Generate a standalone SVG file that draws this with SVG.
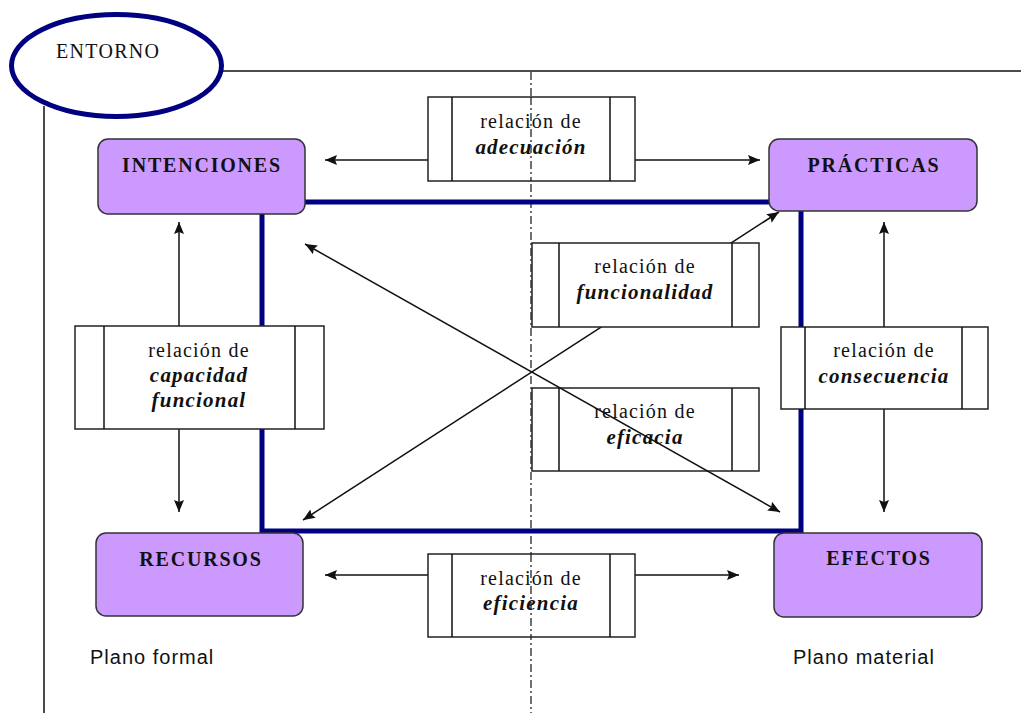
<svg xmlns="http://www.w3.org/2000/svg" width="1021" height="713" viewBox="0 0 1021 713">
<style>
.node{fill:#CC99FF;stroke:#333;stroke-width:1.5}
.ntxt{font-family:"Liberation Serif",serif;font-weight:bold;font-size:20px;letter-spacing:1.8px;text-anchor:middle;fill:#111}
.rel{fill:#fff;stroke:#222;stroke-width:1.5}
.rtxt{font-family:"Liberation Serif",serif;font-size:20px;letter-spacing:1.2px;text-anchor:middle;fill:#111}
.rem{font-family:"Liberation Serif",serif;font-size:21px;font-weight:bold;font-style:italic;letter-spacing:1.2px;text-anchor:middle;fill:#111}
.ln{stroke:#111;stroke-width:1.5;fill:none}
.plano{font-family:"Liberation Sans",sans-serif;font-size:20px;letter-spacing:1px;fill:#111}
</style>
<defs>
<marker id="ah" viewBox="0 0 12 10" refX="12" refY="5" markerWidth="12" markerHeight="10" markerUnits="userSpaceOnUse" orient="auto-start-reverse">
<path d="M0,0 L12,5 L0,10 L2,5 z" fill="#111"/>
</marker>
</defs>
<rect width="1021" height="713" fill="#fff"/>
<g id="entorno">
<line x1="44" y1="106" x2="44" y2="713" class="ln"/>
<line x1="222" y1="71" x2="1021" y2="71" class="ln"/>
<ellipse cx="116.5" cy="65.5" rx="105" ry="51" fill="#fff" stroke="#000080" stroke-width="5"/>
<text x="56" y="58" font-family="Liberation Serif,serif" font-size="20" letter-spacing="1.3" fill="#111">ENTORNO</text>
</g>
<line id="divider" x1="531" y1="72" x2="531" y2="713" stroke="#111" stroke-width="1.2" stroke-dasharray="8,3,2,3"/>
<rect id="frame" x="262" y="202" width="539" height="329" fill="none" stroke="#000080" stroke-width="5"/>
<g id="connectors-under">
<line x1="303" y1="520" x2="779" y2="212" class="ln" marker-start="url(#ah)" marker-end="url(#ah)"/>
</g>
<g id="intenciones"><rect class="node" x="98" y="139" width="207" height="75" rx="10"/><text class="ntxt" x="202" y="172">INTENCIONES</text></g>
<g id="practicas"><rect class="node" x="769" y="139" width="208" height="72" rx="10"/><text class="ntxt" x="874" y="172">PRÁCTICAS</text></g>
<g id="recursos"><rect class="node" x="96" y="533" width="207" height="83" rx="10"/><text class="ntxt" x="201" y="566">RECURSOS</text></g>
<g id="efectos"><rect class="node" x="774" y="533" width="208" height="84" rx="10"/><text class="ntxt" x="879" y="565">EFECTOS</text></g>
<g id="connectors">
<line x1="428" y1="160" x2="325" y2="160" class="ln" marker-end="url(#ah)"/>
<line x1="635" y1="160" x2="760" y2="160" class="ln" marker-end="url(#ah)"/>
<line x1="428" y1="575" x2="325" y2="575" class="ln" marker-end="url(#ah)"/>
<line x1="635" y1="575" x2="739" y2="575" class="ln" marker-end="url(#ah)"/>
<line x1="179" y1="326" x2="179" y2="222" class="ln" marker-end="url(#ah)"/>
<line x1="179" y1="429" x2="179" y2="512" class="ln" marker-end="url(#ah)"/>
<line x1="884" y1="327" x2="884" y2="222" class="ln" marker-end="url(#ah)"/>
<line x1="884" y1="409" x2="884" y2="512" class="ln" marker-end="url(#ah)"/>
</g>
<g id="adecuacion"><rect class="rel" x="428" y="97" width="207" height="84"/><line class="ln" x1="452" y1="97" x2="452" y2="181"/><line class="ln" x1="610" y1="97" x2="610" y2="181"/><text class="rtxt" x="531" y="128">relación de</text><text class="rem" x="531" y="154">adecuación</text></g>
<g id="funcionalidad"><rect class="rel" x="532" y="243" width="227" height="84"/><line class="ln" x1="559" y1="243" x2="559" y2="327"/><line class="ln" x1="732" y1="243" x2="732" y2="327"/><text class="rtxt" x="645" y="273">relación de</text><text class="rem" x="645" y="299">funcionalidad</text></g>
<g id="eficacia"><rect class="rel" x="532" y="388" width="227" height="83"/><line class="ln" x1="559" y1="388" x2="559" y2="471"/><line class="ln" x1="732" y1="388" x2="732" y2="471"/><text class="rtxt" x="645" y="418">relación de</text><text class="rem" x="645" y="444">eficacia</text></g>
<g id="capacidad"><rect class="rel" x="75" y="326" width="249" height="103"/><line class="ln" x1="104" y1="326" x2="104" y2="429"/><line class="ln" x1="295" y1="326" x2="295" y2="429"/><text class="rtxt" x="199" y="357">relación de</text><text class="rem" x="199" y="382">capacidad</text><text class="rem" x="199" y="407">funcional</text></g>
<g id="consecuencia"><rect class="rel" x="781" y="327" width="207" height="82"/><line class="ln" x1="805" y1="327" x2="805" y2="409"/><line class="ln" x1="962" y1="327" x2="962" y2="409"/><text class="rtxt" x="884" y="357">relación de</text><text class="rem" x="884" y="383">consecuencia</text></g>
<g id="eficiencia"><rect class="rel" x="428" y="554" width="207" height="83"/><line class="ln" x1="452" y1="554" x2="452" y2="637"/><line class="ln" x1="610" y1="554" x2="610" y2="637"/><text class="rtxt" x="531" y="585">relación de</text><text class="rem" x="531" y="610">eficiencia</text></g>
<line id="divider-over" x1="531" y1="97" x2="531" y2="181" stroke="#111" stroke-width="1.2" stroke-dasharray="8,3,2,3"/>
<line id="divider-over2" x1="531" y1="554" x2="531" y2="637" stroke="#111" stroke-width="1.2" stroke-dasharray="8,3,2,3"/>
<g id="connectors-over">
<line x1="305" y1="244" x2="780" y2="512" class="ln" marker-start="url(#ah)" marker-end="url(#ah)"/>
</g>
<text class="plano" x="90" y="664">Plano formal</text>
<text class="plano" x="793" y="664">Plano material</text>
</svg>
